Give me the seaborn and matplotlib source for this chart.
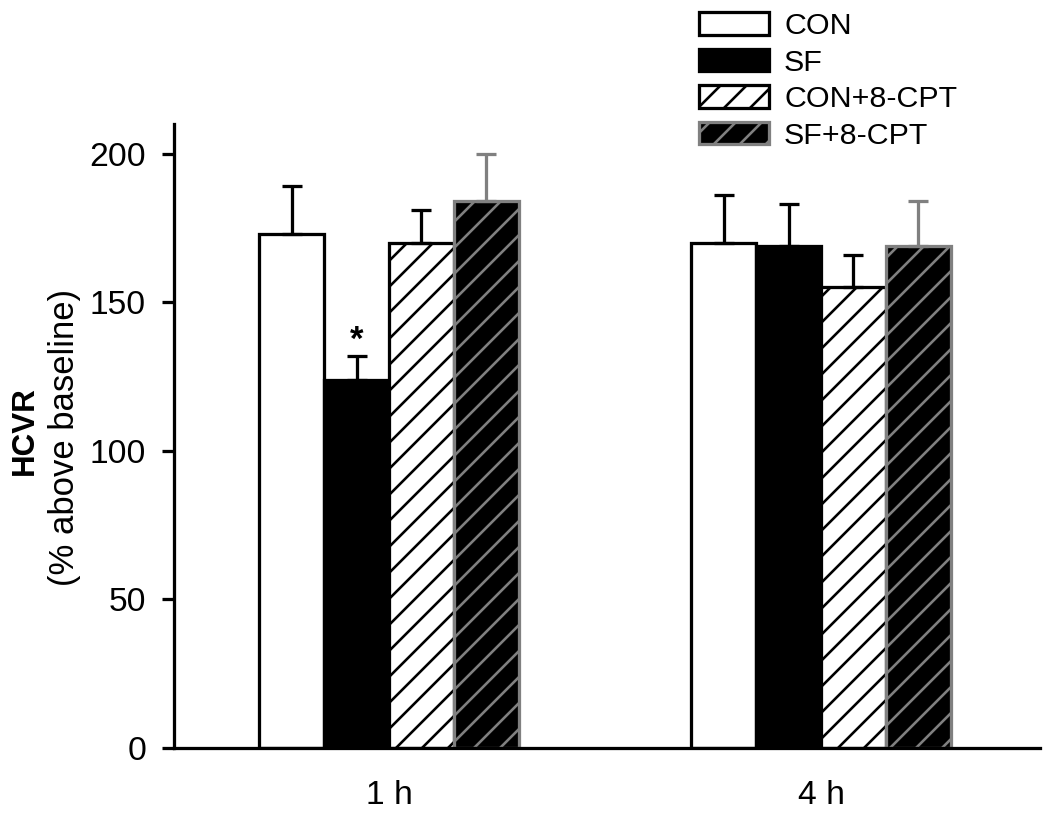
import numpy as np
import pandas as pd
import matplotlib
matplotlib.use("Agg")
import matplotlib.pyplot as plt
import seaborn as sns

# data
times = ["1 h", "4 h"]
groups = ["CON", "SF", "CON+8-CPT", "SF+8-CPT"]
mean_1h = [173, 124, 170, 184]
sem_1h = [16, 8, 11, 16]
mean_4h = [170, 169, 155, 169]
sem_4h = [16, 14, 11, 15]

fill_colors = ["white", "black", "white", "black"]
edge_colors = ["black", "black", "black", "#808080"]
hatches = ["", "", "//", "//"]
LW = 1.5

sns.set_theme(style="ticks")
plt.rcParams["font.family"] = ["Liberation Sans", "DejaVu Sans"]
plt.rcParams["hatch.linewidth"] = 1.2
plt.rcParams["text.color"] = "black"
plt.rcParams["xtick.color"] = "black"
plt.rcParams["ytick.color"] = "black"

df = pd.DataFrame({
    "time": [t for t in times for _ in groups],
    "group": groups * len(times),
    "hcvr": mean_1h + mean_4h,
})

DPI = 156
fig = plt.figure(figsize=(1050 / DPI, 822 / DPI), dpi=DPI)
ax = fig.add_axes([174 / 1050, 1 - 748 / 822, (1040 - 174) / 1050, (748 - 124) / 822])

sns.barplot(data=df, x="time", y="hcvr", hue="group", hue_order=groups,
            palette=fill_colors, errorbar=None, width=0.6, saturation=1,
            legend=False, ax=ax)

sems = {"1 h": sem_1h, "4 h": sem_4h}
bar_containers = list(ax.containers)
handles = []
for i, cont in enumerate(bar_containers):
    xs, tops, errs = [], [], []
    for j, bar in enumerate(cont.patches):
        bar.set_edgecolor(edge_colors[i])
        bar.set_linewidth(LW)
        bar.set_hatch(hatches[i])
        xs.append(bar.get_x() + bar.get_width() / 2)
        tops.append(bar.get_height())
        errs.append(sems[times[j]][i])
    ax.errorbar(xs, tops, yerr=[np.zeros(len(errs)), errs], fmt="none",
                ecolor=edge_colors[i], elinewidth=LW, capsize=4.8,
                capthick=LW, zorder=1)
    handles.append(cont.patches[0])

# significance marker above SF at 1 h
sf_bar = bar_containers[1].patches[0]
ax.text(sf_bar.get_x() + sf_bar.get_width() / 2, sf_bar.get_height() + sem_1h[1] - 0.5,
        "*", ha="center", va="bottom", fontsize=16, fontweight="bold")

ax.set_xlim(-0.4977, 1.5069)
ax.set_ylim(0, 210)
ax.set_yticks([0, 50, 100, 150, 200])
ax.set_xlabel("")
ax.set_ylabel("")
sns.despine(ax=ax)
for side in ["left", "bottom"]:
    ax.spines[side].set_linewidth(LW)
    ax.spines[side].set_color("black")
ax.tick_params(axis="y", length=5.5, width=LW, pad=7.4, labelsize=15.5)
ax.tick_params(axis="x", length=0, pad=15, labelsize=15.5)

fig.text(25 / 1050, 1 - 431 / 822, "HCVR", rotation=90, ha="center", va="center",
         fontsize=14.5, fontweight="bold")
fig.text(65 / 1050, 1 - 438 / 822, "(% above baseline)", rotation=90, ha="center",
         va="center", fontsize=16)

fig.legend(handles, groups, loc="upper left", bbox_to_anchor=(684 / 1050, 1 + 3 / 822),
           frameon=False, borderpad=0, fontsize=14, handlelength=2.3,
           handleheight=0.75, handletextpad=0.5, labelspacing=0.28)

fig.savefig("out.png", dpi=DPI)
